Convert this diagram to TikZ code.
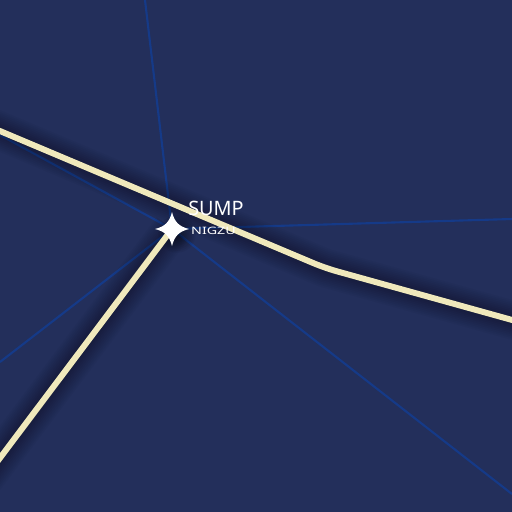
\documentclass[tikz,border=0pt]{standalone}
\usepackage{fontspec}
\setmainfont{Noto Sans}
\definecolor{mapbg}{HTML}{232F5B}
\definecolor{roadfill}{HTML}{F0E9BC}
\definecolor{linkblue}{HTML}{153A88}
\tikzset{
  link/.style={draw=linkblue, line width=1.2pt},
  road/.style={draw=roadfill, line width=3.4pt, line join=round},
  roadshade/.style={draw=black, opacity=.032, line join=round}
}
\begin{document}
\begin{tikzpicture}[x=.02cm, y=-.02cm]
\useasboundingbox (0,0) rectangle (512,512);
\clip (0,0) rectangle (512,512);
\fill[mapbg] (0,0) rectangle (512,512);
\coordinate (hub) at (172,229);
\coordinate (north) at (145,0);
\coordinate (east) at (512,219);
\coordinate (southeast) at (512,494);
\coordinate (west) at (0,362);
\coordinate (northwest) at (0,135);
\coordinate (bend) at (325,268);
\coordinate (roadwest) at (-20,122.6);
\coordinate (roadeast) at (532,325.5);
\coordinate (roadsouth) at (-20,484.6);
% thin links
\foreach \a/\b in {north/hub, east/hub, southeast/hub, west/hub, northwest/hub}{
\draw[link] (\a) -- (\b);
}
% soft shade under the roads
\foreach \w in {2,4,...,22}{
\draw[roadshade, line width=\w pt, shift={(3,9)}] (roadwest) -- (bend) -- (roadeast);
\draw[roadshade, line width=\w pt, shift={(9,6)}] (roadsouth) -- (hub);
\fill[black, opacity=.05] (hub) ++(5,5) circle ({\w*.85});
}
\draw[road] (roadsouth) -- (hub);
\draw[road, rounded corners=7pt] (roadwest) -- (bend) -- (roadeast);
\node[text=white, inner sep=0pt, font=\fontsize{11.3pt}{14pt}\selectfont] (sump) at (216,208) {SUMP};
\node[text=white, inner sep=0pt, xscale=1.4, font=\fontsize{5.8pt}{8pt}\selectfont\bfseries] (code) at (213.5,230.5) {NIGZU};
\fill[white] (172,212) .. controls (174.5,222) and (179,226.5) .. (189,229)
  .. controls (179,231.5) and (174.5,236) .. (172,246)
  .. controls (169.5,236) and (165,231.5) .. (155,229)
  .. controls (165,226.5) and (169.5,222) .. (172,212) -- cycle;
\end{tikzpicture}
\end{document}
